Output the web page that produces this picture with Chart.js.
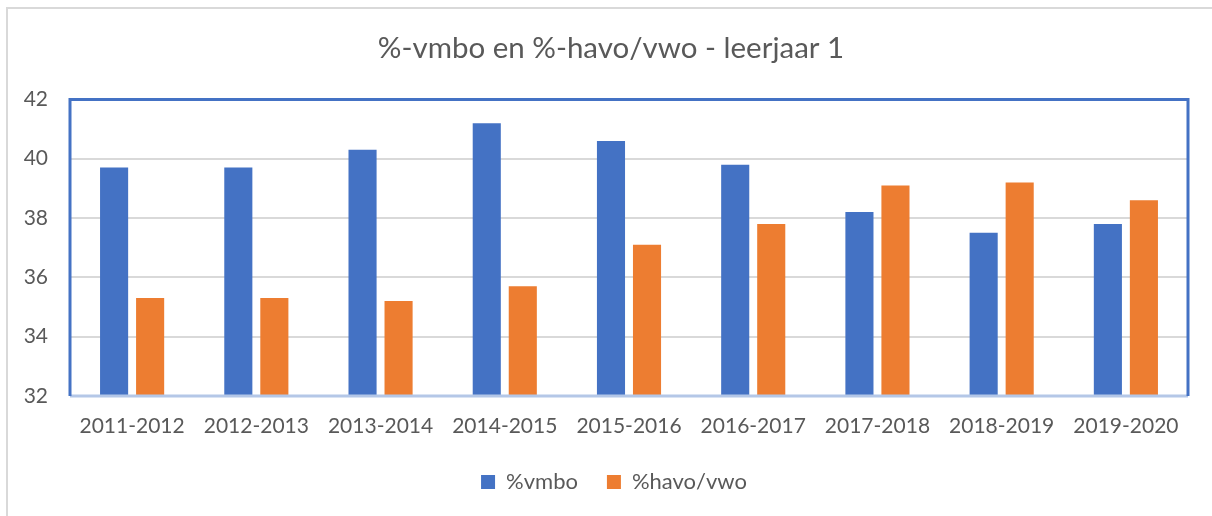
<!DOCTYPE html>
<html>
<head>
<meta charset="utf-8">
<script src="https://cdn.jsdelivr.net/npm/chart.js@4"></script>
<style>
  html, body { margin: 0; padding: 0; background: #fff; }
  #wrap { width: 1212px; height: 516px; position: relative; }
</style>
</head>
<body>
<div id="wrap"><canvas id="c" width="1212" height="516"></canvas></div>
<script>
// schooljaren
const years = ["2011-2012", "2012-2013", "2013-2014", "2014-2015", "2015-2016",
               "2016-2017", "2017-2018", "2018-2019", "2019-2020"];
// waarden
const vmbo = [39.7, 39.7, 40.3, 41.2, 40.6, 39.8, 38.2, 37.5, 37.8];
const havoVwo = [35.3, 35.3, 35.2, 35.7, 37.1, 37.8, 39.1, 39.2, 38.6];
const yTicks = [32, 34, 36, 38, 40, 42];

const FONT = "Lato, 'Open Sans', sans-serif";
const GREY = "#595959";

// kaders: grijze buitenrand en blauw plotkader
const framePlugin = {
    id: "frame",
    afterLayout(chart) {
        // titel en legenda iets naar rechts, zoals in het origineel
        chart.titleBlock.left = 34;
        chart.titleBlock.right = 1188;
        chart.legend.left = 40;
        chart.legend.right = 1188;
    },
    beforeDraw(chart) {
        const ctx = chart.ctx;
        ctx.save();
        ctx.strokeStyle = "#d9d9d9";
        ctx.lineWidth = 2;
        ctx.beginPath();
        ctx.moveTo(7, 516);
        ctx.lineTo(7, 8);
        ctx.lineTo(1212, 8);
        ctx.stroke();
        ctx.restore();
    },
    afterDatasetsDraw(chart) {
        const { ctx, chartArea: a } = chart;
        ctx.save();
        ctx.strokeStyle = "#b4c7e7";
        ctx.lineWidth = 3;
        ctx.beginPath();
        ctx.moveTo(a.left, a.bottom);
        ctx.lineTo(a.right, a.bottom);
        ctx.stroke();
        ctx.strokeStyle = "#4472c4";
        ctx.lineWidth = 3;
        ctx.beginPath();
        ctx.moveTo(a.left, a.bottom);
        ctx.lineTo(a.left, a.top);
        ctx.lineTo(a.right, a.top);
        ctx.lineTo(a.right, a.bottom);
        ctx.stroke();
        ctx.restore();
    }
};

new Chart(document.getElementById("c"), {
    type: "bar",
    data: {
        labels: years,
        datasets: [
            { label: "%vmbo", data: vmbo, backgroundColor: "#4472c4" },
            { label: "%havo/vwo", data: havoVwo, backgroundColor: "#ed7d31" }
        ]
    },
    options: {
        responsive: false,
        animation: false,
        datasets: { bar: { barPercentage: 0.78, categoryPercentage: 0.58 } },
        layout: { padding: { left: 10, right: 24, top: 0, bottom: 13 } },
        plugins: {
            title: {
                display: true,
                text: "%-vmbo en %-havo/vwo - leerjaar 1",
                color: GREY,
                font: { family: FONT, size: 29.5, weight: "normal" },
                padding: { top: 31, bottom: 33 }
            },
            legend: {
                position: "bottom",
                labels: {
                    color: GREY,
                    font: { family: FONT, size: 22 },
                    boxWidth: 14,
                    boxHeight: 14,
                    padding: 29
                }
            },
            tooltip: { enabled: false }
        },
        scales: {
            x: {
                afterFit(scale) { scale.height = 46; },
                grid: { display: false, drawTicks: false },
                border: { display: false },
                ticks: { color: GREY, font: { family: FONT, size: 21 }, padding: 18, maxRotation: 0 }
            },
            y: {
                min: 32,
                max: 42,
                afterBuildTicks(scale) { scale.ticks = yTicks.map(v => ({ value: v })); },
                afterFit(scale) { scale.width = 60; },
                grid: { color: "#d9d9d9", lineWidth: 2, drawTicks: false },
                border: { display: false },
                ticks: { color: GREY, font: { family: FONT, size: 21 }, padding: 22 }
            }
        }
    },
    plugins: [framePlugin]
});
</script>
</body>
</html>
